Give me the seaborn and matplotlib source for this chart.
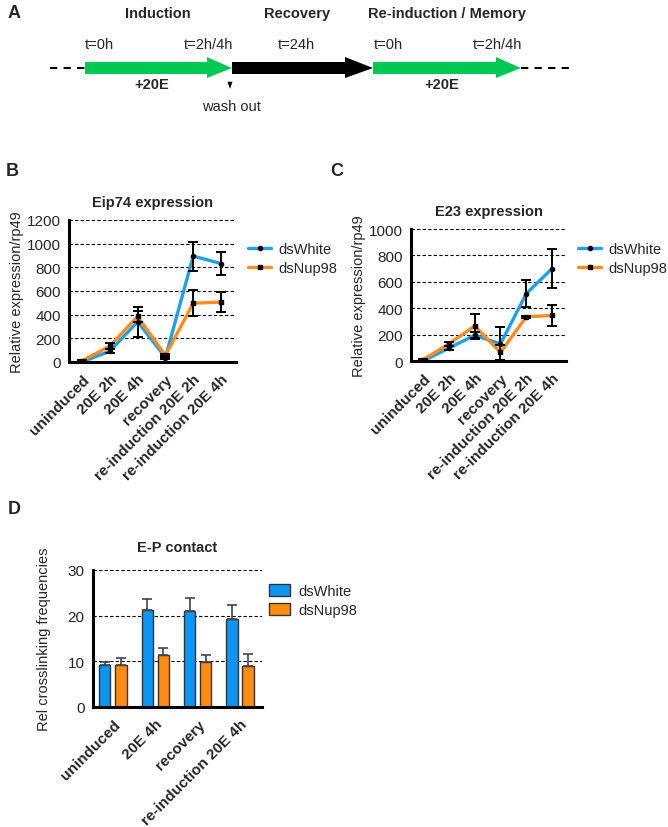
import matplotlib
matplotlib.use('Agg')
import matplotlib.pyplot as plt
import seaborn as sns
import pandas as pd
import numpy as np
from matplotlib.patches import Polygon, Patch
from matplotlib.lines import Line2D

sns.set_style('white')
plt.rcParams['font.family'] = ['Liberation Sans', 'DejaVu Sans']

# ---- data ----
timepoints = ['uninduced', '20E 2h', '20E 4h', 'recovery',
              're-induction 20E 2h', 're-induction 20E 4h']
groups = ['dsWhite', 'dsNup98']

eip74_white = [0, 92, 340, 38, 895, 832]
eip74_white_err = [5, 20, 125, 12, 122, 98]
eip74_nup = [10, 135, 385, 55, 497, 506]
eip74_nup_err = [5, 28, 45, 15, 112, 82]

e23_white = [0, 98, 195, 130, 510, 700]
e23_white_err = [5, 15, 25, 125, 100, 150]
e23_nup = [10, 130, 265, 65, 335, 345]
e23_nup_err = [5, 15, 92, 60, 8, 78]

contact_points = ['uninduced', '20E 4h', 'recovery', 're-induction 20E 4h']
contact_white = [9.2, 21.3, 21.0, 19.2]
contact_white_err = [0.7, 2.3, 2.8, 3.2]
contact_nup = [9.2, 11.4, 9.9, 8.9]
contact_nup_err = [1.6, 1.5, 1.4, 2.7]

BLUE = '#1E9FF0'
ORANGE = '#FF8C1A'
BAR_BLUE = '#0A96F5'
BAR_ORANGE = '#FF8C0F'
GREEN = '#00C853'

W, H = 668, 828
fig = plt.figure(figsize=(W / 100, H / 100), dpi=100)


def px_axes(left, right, top, bottom):
    return fig.add_axes([left / W, (H - bottom) / H, (right - left) / W, (bottom - top) / H])


def style_axes(ax, yticks):
    for s in ['top', 'right']:
        ax.spines[s].set_visible(False)
    for s in ['left', 'bottom']:
        ax.spines[s].set_linewidth(2.2)
        ax.spines[s].set_color('black')
    ax.set_yticks(yticks)
    for y in yticks[1:]:
        ax.axhline(y, color='black', lw=0.8, ls=(0, (3, 2)), zorder=0)
    ax.tick_params(axis='both', direction='out', width=2.2, length=5, color='black')
    ax.tick_params(axis='y', labelsize=11, pad=1)
    ax.tick_params(axis='x', labelsize=11, pad=2)
    for lab in ax.get_xticklabels():
        lab.set_fontweight('bold')
        lab.set_rotation(45)
        lab.set_ha('right')
        lab.set_rotation_mode('anchor')
    ax.set_xlabel('')


def line_panel(ax, white, white_err, nup, nup_err, ymax, yticks, title, leg_y):
    df = pd.DataFrame({
        'timepoint': timepoints * 2,
        'value': white + nup,
        'group': [groups[0]] * 6 + [groups[1]] * 6,
    })
    df['x'] = np.tile(np.arange(6), 2)
    sns.lineplot(data=df, x='x', y='value', hue='group', palette=[BLUE, ORANGE],
                 lw=2.4, legend=False, ax=ax, sort=False, zorder=2)
    ax.errorbar(np.arange(6), white, yerr=white_err, fmt='o', ms=3, color='black',
                ecolor='black', elinewidth=1.4, capsize=3.5, capthick=1.4, zorder=3)
    ax.errorbar(np.arange(6), nup, yerr=nup_err, fmt='s', ms=3, color='black',
                ecolor='black', elinewidth=1.4, capsize=3.5, capthick=1.4, zorder=3)
    ax.set_ylim(0, ymax)
    ax.set_xlim(-0.47, 5.54)
    ax.set_xticks(range(6))
    ax.set_xticklabels(timepoints)
    ax.set_ylabel('Relative expression/rp49', fontsize=10.5, labelpad=2)
    ax.set_title(title, fontsize=10.5, fontweight='bold', pad=10)
    style_axes(ax, yticks)
    handles = [Line2D([], [], color=BLUE, lw=2.4, marker='o', ms=3, mfc='black', mec='black'),
               Line2D([], [], color=ORANGE, lw=2.4, marker='s', ms=3, mfc='black', mec='black')]
    ax.legend(handles, groups, loc='upper left', bbox_to_anchor=leg_y, frameon=False,
              fontsize=10.5, handlelength=1.6, handletextpad=0.5, labelspacing=0.35,
              borderaxespad=0)


# ---- panel B ----
axB = px_axes(69, 236, 221, 363)
line_panel(axB, eip74_white, eip74_white_err, eip74_nup, eip74_nup_err,
           1200, [0, 200, 400, 600, 800, 1000, 1200], 'Eip74 expression',
           ((242 - 69) / 167, (363 - 237) / 142))

# ---- panel C ----
axC = px_axes(411, 566, 230, 362)
line_panel(axC, e23_white, e23_white_err, e23_nup, e23_nup_err,
           1000, [0, 200, 400, 600, 800, 1000], 'E23 expression',
           ((572 - 411) / 155, (362 - 237) / 132))

# ---- panel D ----
axD = px_axes(93, 262, 571, 708)
dfd = pd.DataFrame({
    'timepoint': contact_points * 2,
    'value': contact_white + contact_nup,
    'group': [groups[0]] * 4 + [groups[1]] * 4,
})
sns.barplot(data=dfd, x='timepoint', y='value', hue='group', palette=[BAR_BLUE, BAR_ORANGE],
            saturation=1, width=0.76, gap=0.3, edgecolor='#333333', linewidth=1.0,
            errorbar=None, ax=axD, legend=False, zorder=2)
bars = [p for p in axD.patches if p.get_height() > 0]
errs = contact_white_err + contact_nup_err
for p, e in zip(bars, errs):
    xc = p.get_x() + p.get_width() / 2
    axD.errorbar([xc], [p.get_height()], yerr=[[0], [e]], fmt='none', ecolor='#444444',
                 elinewidth=1.2, capsize=3.5, capthick=1.2, zorder=3)
axD.set_ylim(0, 30)
axD.set_xlim(-0.47, 3.52)
axD.set_ylabel('Rel crosslinking frequencies', fontsize=10.5, labelpad=12)
axD.set_title('E-P contact', fontsize=10.5, fontweight='bold', pad=14)
style_axes(axD, [0, 10, 20, 30])
axD.legend([Patch(facecolor=BAR_BLUE, edgecolor='#333333'),
            Patch(facecolor=BAR_ORANGE, edgecolor='#333333')], groups,
           loc='upper left', bbox_to_anchor=((263 - 93) / 169, (708 - 579) / 137),
           frameon=False, fontsize=10.5, handlelength=1.45, handleheight=0.95,
           handletextpad=0.6, labelspacing=0.3, borderaxespad=0)

# ---- panel A: schematic, drawn in pixel space ----
axA = fig.add_axes([0, 0, 1, 1], zorder=-1)
axA.set_xlim(0, W)
axA.set_ylim(H, 0)
axA.axis('off')


def arrow(x0, x1, head_x, color):
    pts = [(x0, 63), (head_x, 63), (head_x, 58), (x1, 69), (head_x, 79),
           (head_x, 75), (x0, 75)]
    axA.add_patch(Polygon(pts, closed=True, facecolor=color, edgecolor='none'))


axA.plot([50, 85], [69, 69], color='black', lw=1.5, ls=(0, (3.5, 3)))
axA.plot([521, 573], [69, 69], color='black', lw=1.5, ls=(0, (3.5, 3)))
arrow(85, 232, 207, GREEN)
arrow(232, 373, 345, 'black')
arrow(373, 521, 496, GREEN)
axA.add_patch(Polygon([(226.5, 82), (233.5, 82), (230, 92)], closed=True, facecolor='black'))

txt = dict(ha='center', va='center', fontsize=10.5)
axA.text(158, 14, 'Induction', fontweight='bold', **txt)
axA.text(297, 14, 'Recovery', fontweight='bold', **txt)
axA.text(447, 14, 'Re-induction / Memory', fontweight='bold', **txt)
for x, s in [(99, 't=0h'), (208, 't=2h/4h'), (296, 't=24h'), (388, 't=0h'), (497, 't=2h/4h')]:
    axA.text(x, 45, s, **txt)
axA.text(152, 85, '+20E', fontweight='bold', **txt)
axA.text(442, 85, '+20E', fontweight='bold', **txt)
axA.text(231, 107, 'wash out', **txt)

for x, y, s in [(14, 14, 'A'), (12, 172, 'B'), (337, 172, 'C'), (14, 510, 'D')]:
    axA.text(x, y, s, ha='center', va='center', fontsize=13, fontweight='bold')

fig.savefig('out.png', dpi=100)
